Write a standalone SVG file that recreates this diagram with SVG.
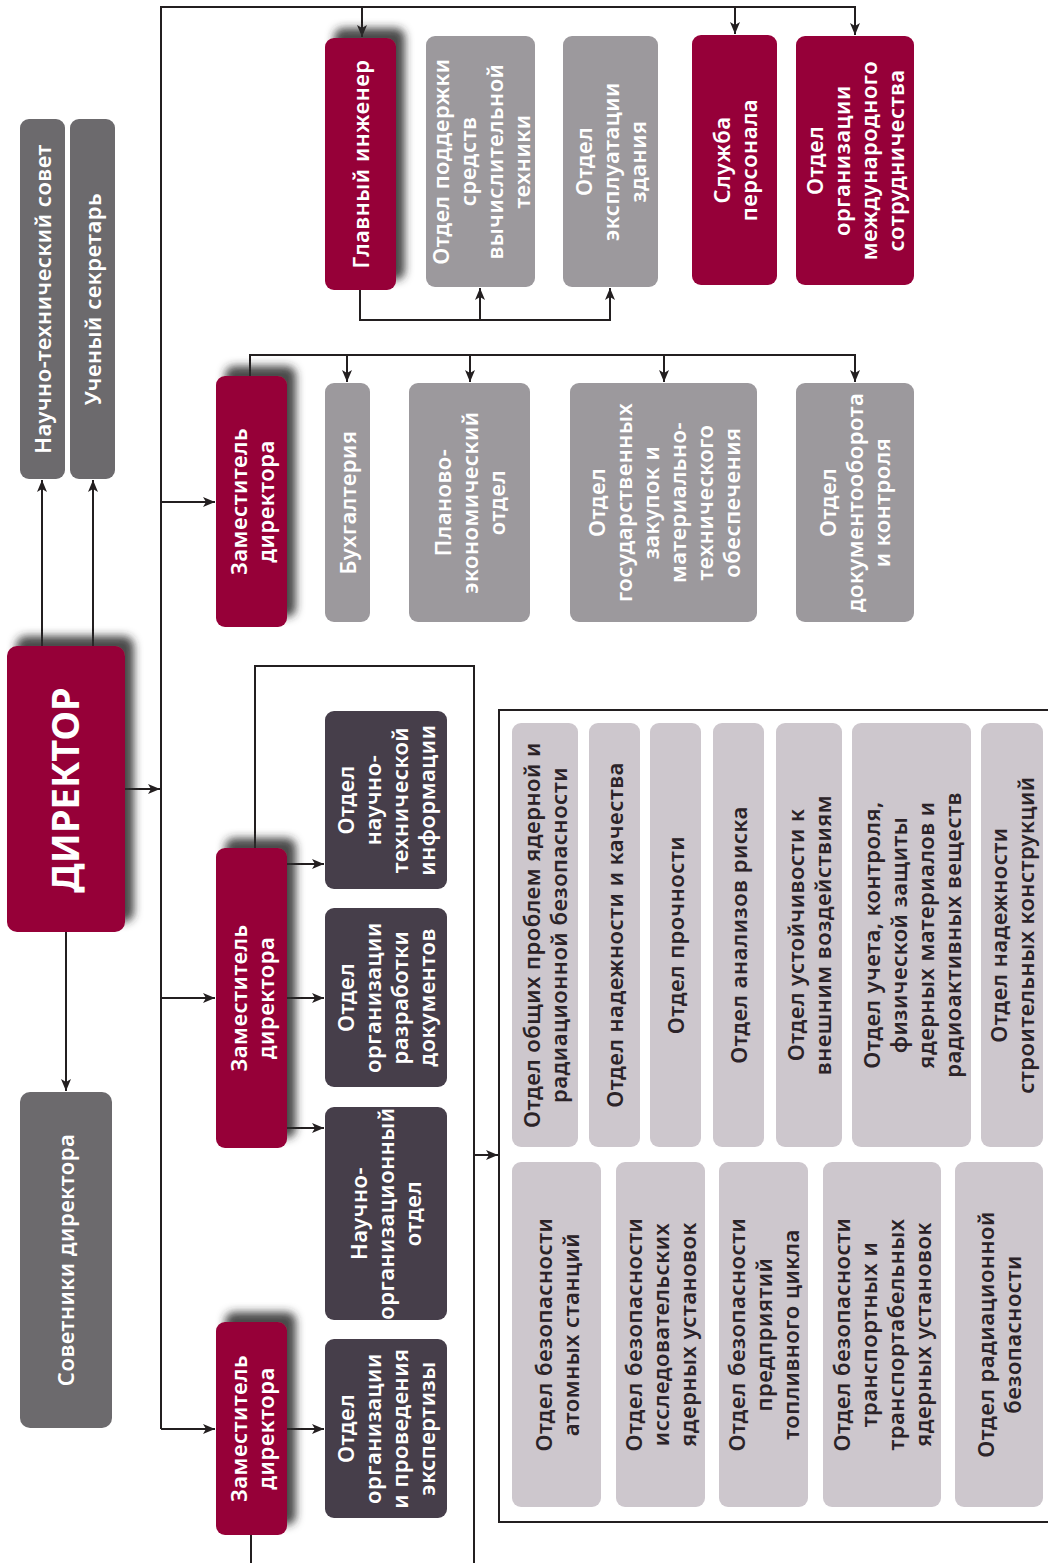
<svg xmlns="http://www.w3.org/2000/svg" width="1048" height="1563" viewBox="0 0 1048 1563">
<defs>
<style>
.t{font-family:"Noto Sans","Open Sans","Liberation Sans",sans-serif;font-size:22px;letter-spacing:0.5px;font-weight:600;text-anchor:middle;fill:#ffffff}
.d{fill:#2b2328}
.big{font-size:38px;font-weight:700;letter-spacing:0}
.crim{fill:#960039}
.gray{fill:#9c999d}
.dgray{fill:#6c6a6d}
.purp{fill:#463e4a}
.light{fill:#cdc7cd}
.ln{fill:none;stroke:#231f20;stroke-width:2}
.ar{marker-end:url(#ah)}
</style>
<marker id="ah" markerUnits="userSpaceOnUse" markerWidth="14" markerHeight="12" refX="12" refY="6" orient="auto">
<path d="M0,1 L12,6 L0,11 L3,6 z" fill="#231f20"/>
</marker>
<filter id="sh" x="-30%" y="-30%" width="160%" height="160%">
<feDropShadow dx="9" dy="-10" stdDeviation="4" flood-color="#2a2a2a" flood-opacity="0.85"/>
</filter>
</defs>
<rect width="1048" height="1563" fill="#ffffff"/>

<g id="connectors">
<path class="ln ar" d="M161,1429 V7 H855 V35"/>
<path class="ln ar" d="M362,7 V37"/>
<path class="ln ar" d="M735,7 V34"/>
<path class="ln ar" d="M125,789 H160"/>
<path class="ln ar" d="M161,502 H215"/>
<path class="ln ar" d="M161,998 H215"/>
<path class="ln ar" d="M161,1429 H215"/>
<path class="ln ar" d="M42,646 V480"/>
<path class="ln ar" d="M93,646 V480"/>
<path class="ln ar" d="M66,932 V1091"/>
<path class="ln ar" d="M360,290 V320 H610 V288"/>
<path class="ln ar" d="M480,320 V288"/>
<path class="ln ar" d="M250,376 V355 H855 V382"/>
<path class="ln ar" d="M347,355 V382"/>
<path class="ln ar" d="M470,355 V382"/>
<path class="ln ar" d="M664,355 V382"/>
<path class="ln" d="M255,848 V666 H474 V1563"/>
<path class="ln ar" d="M474,1155 H498"/>
<path class="ln ar" d="M287,864 H324"/>
<path class="ln ar" d="M287,998 H324"/>
<path class="ln ar" d="M287,1128 H324"/>
<path class="ln ar" d="M287,1429 H324"/>
<path class="ln" d="M251,1535 V1563"/>
<path class="ln" d="M1050,710 H499 V1522 H1050"/>
</g>

<g id="glavny-inzhener">
<rect class="crim" x="325" y="38" width="71" height="252" rx="9" filter="url(#sh)"/>
<text class="t" transform="translate(360.5,164) rotate(-90)"><tspan x="0" y="8">Главный инженер</tspan></text>
</g>
<g id="otdel-podderzhki">
<rect class="gray" x="426" y="36" width="109" height="251" rx="9"/>
<text class="t" transform="translate(480.5,161.5) rotate(-90)"><tspan x="0" y="-32">Отдел поддержки</tspan><tspan x="0" y="-5">средств</tspan><tspan x="0" y="22">вычислительной</tspan><tspan x="0" y="49">техники</tspan></text>
</g>
<g id="otdel-ekspluatacii">
<rect class="gray" x="563" y="36" width="95" height="251" rx="9"/>
<text class="t" transform="translate(610.5,161.5) rotate(-90)"><tspan x="0" y="-19">Отдел</tspan><tspan x="0" y="8">эксплуатации</tspan><tspan x="0" y="35">здания</tspan></text>
</g>
<g id="sluzhba-personala">
<rect class="crim" x="692" y="35" width="85" height="250" rx="9"/>
<text class="t" transform="translate(734.5,160) rotate(-90)"><tspan x="0" y="-5">Служба</tspan><tspan x="0" y="22">персонала</tspan></text>
</g>
<g id="otdel-mezhdunarodnogo">
<rect class="crim" x="796" y="36" width="118" height="249" rx="9"/>
<text class="t" transform="translate(855,160.5) rotate(-90)"><tspan x="0" y="-32">Отдел</tspan><tspan x="0" y="-5">организации</tspan><tspan x="0" y="22">международного</tspan><tspan x="0" y="49">сотрудничества</tspan></text>
</g>

<g id="nauchno-tekhnicheskiy-sovet">
<rect class="dgray" x="20" y="119" width="45" height="360" rx="9"/>
<text class="t" transform="translate(42.5,299) rotate(-90)"><tspan x="0" y="8">Научно-технический совет</tspan></text>
</g>
<g id="ucheny-sekretar">
<rect class="dgray" x="70" y="119" width="45" height="360" rx="9"/>
<text class="t" transform="translate(92.5,299) rotate(-90)"><tspan x="0" y="8">Ученый секретарь</tspan></text>
</g>
<g id="direktor">
<rect class="crim" x="7" y="646" width="118" height="286" rx="10" filter="url(#sh)"/>
<text class="t big" transform="translate(66,790) rotate(-90)"><tspan x="0" y="13">ДИРЕКТОР</tspan></text>
</g>
<g id="sovetniki">
<rect class="dgray" x="20" y="1092" width="92" height="336" rx="10"/>
<text class="t" transform="translate(66,1260) rotate(-90)"><tspan x="0" y="8">Советники директора</tspan></text>
</g>

<g id="zam1">
<rect class="crim" x="216" y="376" width="71" height="251" rx="9" filter="url(#sh)"/>
<text class="t" transform="translate(251.5,501.5) rotate(-90)"><tspan x="0" y="-5">Заместитель</tspan><tspan x="0" y="22">директора</tspan></text>
</g>
<g id="buhgalteriya">
<rect class="gray" x="325" y="383" width="45" height="239" rx="9"/>
<text class="t" transform="translate(347.5,502.5) rotate(-90)"><tspan x="0" y="8">Бухгалтерия</tspan></text>
</g>
<g id="planovo-ekonomicheskiy">
<rect class="gray" x="409" y="383" width="121" height="239" rx="9"/>
<text class="t" transform="translate(469.5,502.5) rotate(-90)"><tspan x="0" y="-19">Планово-</tspan><tspan x="0" y="8">экономический</tspan><tspan x="0" y="35">отдел</tspan></text>
</g>
<g id="goszakupok">
<rect class="gray" x="570" y="383" width="187" height="239" rx="9"/>
<text class="t" transform="translate(663.5,502.5) rotate(-90)"><tspan x="0" y="-59">Отдел</tspan><tspan x="0" y="-32">государственных</tspan><tspan x="0" y="-5">закупок и</tspan><tspan x="0" y="22">материально-</tspan><tspan x="0" y="49">технического</tspan><tspan x="0" y="76">обеспечения</tspan></text>
</g>
<g id="dokumentooborota">
<rect class="gray" x="796" y="383" width="118" height="239" rx="9"/>
<text class="t" transform="translate(855,502.5) rotate(-90)"><tspan x="0" y="-19">Отдел</tspan><tspan x="0" y="8">документооборота</tspan><tspan x="0" y="35">и контроля</tspan></text>
</g>

<g id="zam2">
<rect class="crim" x="216" y="848" width="71" height="300" rx="9" filter="url(#sh)"/>
<text class="t" transform="translate(251.5,998) rotate(-90)"><tspan x="0" y="-5">Заместитель</tspan><tspan x="0" y="22">директора</tspan></text>
</g>
<g id="nti">
<rect class="purp" x="325" y="711" width="122" height="178" rx="9"/>
<text class="t" transform="translate(386,800) rotate(-90)"><tspan x="0" y="-32">Отдел</tspan><tspan x="0" y="-5">научно-</tspan><tspan x="0" y="22">технической</tspan><tspan x="0" y="49">информации</tspan></text>
</g>
<g id="razrabotki">
<rect class="purp" x="325" y="908" width="122" height="179" rx="9"/>
<text class="t" transform="translate(386,997.5) rotate(-90)"><tspan x="0" y="-32">Отдел</tspan><tspan x="0" y="-5">организации</tspan><tspan x="0" y="22">разработки</tspan><tspan x="0" y="49">документов</tspan></text>
</g>
<g id="nauchno-organizacionny">
<rect class="purp" x="325" y="1107" width="122" height="213" rx="9"/>
<text class="t" transform="translate(386,1213.5) rotate(-90)"><tspan x="0" y="-19">Научно-</tspan><tspan x="0" y="8">организационный</tspan><tspan x="0" y="35">отдел</tspan></text>
</g>
<g id="ekspertizy">
<rect class="purp" x="325" y="1339" width="122" height="179" rx="9"/>
<text class="t" transform="translate(386,1428.5) rotate(-90)"><tspan x="0" y="-32">Отдел</tspan><tspan x="0" y="-5">организации</tspan><tspan x="0" y="22">и проведения</tspan><tspan x="0" y="49">экспертизы</tspan></text>
</g>
<g id="zam3">
<rect class="crim" x="216" y="1322" width="71" height="213" rx="9" filter="url(#sh)"/>
<text class="t" transform="translate(251.5,1428.5) rotate(-90)"><tspan x="0" y="-5">Заместитель</tspan><tspan x="0" y="22">директора</tspan></text>
</g>

<g id="r1-obshchih">
<rect class="light" x="512" y="723" width="66" height="424" rx="9"/>
<text class="t d" transform="translate(545,935) rotate(-90)"><tspan x="0" y="-5">Отдел общих проблем ядерной и</tspan><tspan x="0" y="22">радиационной безопасности</tspan></text>
</g>
<g id="r1-nadezhnosti-kachestva">
<rect class="light" x="589" y="723" width="51" height="424" rx="9"/>
<text class="t d" transform="translate(614.5,935) rotate(-90)"><tspan x="0" y="8">Отдел надежности и качества</tspan></text>
</g>
<g id="r1-prochnosti">
<rect class="light" x="650" y="723" width="51" height="424" rx="9"/>
<text class="t d" transform="translate(675.5,935) rotate(-90)"><tspan x="0" y="8">Отдел прочности</tspan></text>
</g>
<g id="r1-riska">
<rect class="light" x="713" y="723" width="51" height="424" rx="9"/>
<text class="t d" transform="translate(738.5,935) rotate(-90)"><tspan x="0" y="8">Отдел анализов риска</tspan></text>
</g>
<g id="r1-ustoychivosti">
<rect class="light" x="776" y="723" width="66" height="424" rx="9"/>
<text class="t d" transform="translate(809,935) rotate(-90)"><tspan x="0" y="-5">Отдел устойчивости к</tspan><tspan x="0" y="22">внешним воздействиям</tspan></text>
</g>
<g id="r1-ucheta">
<rect class="light" x="852" y="723" width="119" height="424" rx="9"/>
<text class="t d" transform="translate(911.5,935) rotate(-90)"><tspan x="0" y="-32">Отдел учета, контроля,</tspan><tspan x="0" y="-5">физической защиты</tspan><tspan x="0" y="22">ядерных материалов и</tspan><tspan x="0" y="49">радиоактивных веществ</tspan></text>
</g>
<g id="r1-stroitelnyh">
<rect class="light" x="981" y="723" width="62" height="424" rx="9"/>
<text class="t d" transform="translate(1012,935) rotate(-90)"><tspan x="0" y="-5">Отдел надежности</tspan><tspan x="0" y="22">строительных конструкций</tspan></text>
</g>

<g id="r2-aes">
<rect class="light" x="512" y="1162" width="89" height="345" rx="9"/>
<text class="t d" transform="translate(556.5,1334.5) rotate(-90)"><tspan x="0" y="-5">Отдел безопасности</tspan><tspan x="0" y="22">атомных станций</tspan></text>
</g>
<g id="r2-issledovatelskih">
<rect class="light" x="616" y="1162" width="89" height="345" rx="9"/>
<text class="t d" transform="translate(660.5,1334.5) rotate(-90)"><tspan x="0" y="-19">Отдел безопасности</tspan><tspan x="0" y="8">исследовательских</tspan><tspan x="0" y="35">ядерных установок</tspan></text>
</g>
<g id="r2-toplivnogo">
<rect class="light" x="719" y="1162" width="89" height="345" rx="9"/>
<text class="t d" transform="translate(763.5,1334.5) rotate(-90)"><tspan x="0" y="-19">Отдел безопасности</tspan><tspan x="0" y="8">предприятий</tspan><tspan x="0" y="35">топливного цикла</tspan></text>
</g>
<g id="r2-transportnyh">
<rect class="light" x="823" y="1162" width="118" height="345" rx="9"/>
<text class="t d" transform="translate(882,1334.5) rotate(-90)"><tspan x="0" y="-32">Отдел безопасности</tspan><tspan x="0" y="-5">транспортных и</tspan><tspan x="0" y="22">транспортабельных</tspan><tspan x="0" y="49">ядерных установок</tspan></text>
</g>
<g id="r2-radiacionnoy">
<rect class="light" x="955" y="1162" width="88" height="345" rx="9"/>
<text class="t d" transform="translate(999,1334.5) rotate(-90)"><tspan x="0" y="-5">Отдел радиационной</tspan><tspan x="0" y="22">безопасности</tspan></text>
</g>
</svg>
